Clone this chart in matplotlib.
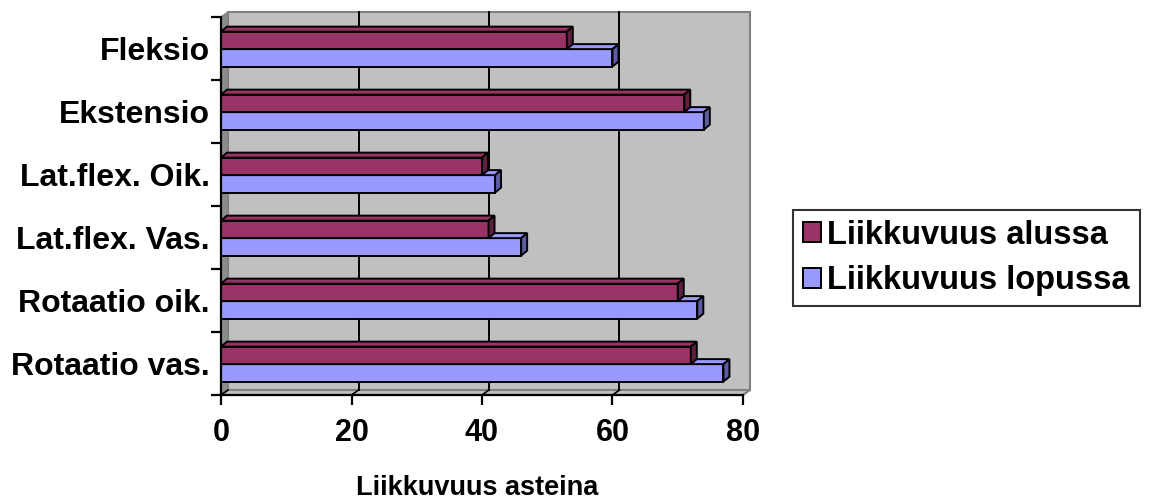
import matplotlib
matplotlib.use("Agg")
import matplotlib.pyplot as plt
from matplotlib.patches import Polygon, Rectangle, Patch

plt.rcParams['font.family'] = ['Liberation Sans', 'DejaVu Sans']

categories = ["Fleksio", "Ekstensio", "Lat.flex. Oik.", "Lat.flex. Vas.",
              "Rotaatio oik.", "Rotaatio vas."]
alussa = [53, 71, 40, 41, 70, 72]
lopussa = [60, 74, 42, 46, 73, 77]
series_names = ["Liikkuvuus alussa", "Liikkuvuus lopussa"]
x_ticks = [0, 20, 40, 60, 80]

c_alussa = "#993366"
c_alussa_side = "#5e1f40"
c_lopussa = "#9999FF"
c_lopussa_side = "#5c5ca6"
wall = "#C0C0C0"
side_wall = "#8c8c8c"

W, H = 1149, 499
fig = plt.figure(figsize=(W / 100, H / 100), dpi=100)
# front plane of the 3d box in pixels: x 221..743, y 17..395 (from top)
ax = fig.add_axes([221 / W, (H - 395) / H, 522 / W, 378 / H])
ax.set_xlim(0, 80)
ax.set_ylim(-0.5, 5.5)

# pixel -> data conversions for the oblique depth offsets
px_x = 80 / 522
px_y = 6 / 378
dx, dy = 7 * px_x, 5 * px_y      # wall depth
bdx, bdy = 6 * px_x, 5 * px_y    # bar depth
h = 17.5 * px_y                   # bar thickness

# walls and floor
ax.add_patch(Rectangle((dx, -0.5 + dy), 80, 6, facecolor=wall,
                       edgecolor="#808080", lw=1.5, clip_on=False, zorder=0))
ax.add_patch(Polygon([(0, -0.5), (0, 5.5), (dx, 5.5 + dy), (dx, -0.5 + dy)],
                     closed=True, facecolor=side_wall, edgecolor="#808080",
                     lw=1, clip_on=False, zorder=0.5))
ax.add_patch(Polygon([(0, -0.5), (80, -0.5), (80 + dx, -0.5 + dy), (dx, -0.5 + dy)],
                     closed=True, facecolor=wall, edgecolor="#808080",
                     lw=1.5, clip_on=False, zorder=0.5))
for xv in x_ticks[1:-1]:
    ax.plot([xv + dx, xv + dx], [-0.5 + dy, 5.5 + dy], color="black", lw=1.4,
            clip_on=False, zorder=0.8)
for xv in x_ticks[:-1]:
    ax.plot([xv, xv + dx], [-0.5, -0.5 + dy], color="black", lw=1.2,
            clip_on=False, zorder=0.8)


def bar3d(y0, val, front, side, z):
    ax.barh(y0, val, height=h, align="edge", color=front, edgecolor="black",
            lw=1.4, zorder=z)
    top = [(0, y0 + h), (val, y0 + h), (val + bdx, y0 + h + bdy), (bdx, y0 + h + bdy)]
    ax.add_patch(Polygon(top, closed=True, facecolor=front, edgecolor="black",
                         lw=1.4, zorder=z, clip_on=False))
    sd = [(val, y0), (val + bdx, y0 + bdy), (val + bdx, y0 + h + bdy), (val, y0 + h)]
    ax.add_patch(Polygon(sd, closed=True, facecolor=side, edgecolor="black",
                         lw=1.4, zorder=z, clip_on=False))


ypos = [len(categories) - 1 - i for i in range(len(categories))]
for yc, a, l in zip(ypos, alussa, lopussa):
    c = yc - 0.01
    bar3d(c - h, l, c_lopussa, c_lopussa_side, 2)
    bar3d(c, a, c_alussa, c_alussa_side, 3)

# axes
for s in ["top", "right"]:
    ax.spines[s].set_visible(False)
for s in ["left", "bottom"]:
    ax.spines[s].set_linewidth(1.6)
    ax.spines[s].set_zorder(5)
ax.set_facecolor("none")
ax.set_xticks(x_ticks)
ax.set_xticklabels([str(v) for v in x_ticks], fontsize=22, fontweight="bold")
ax.set_yticks(ypos)
ax.set_yticklabels(categories, fontsize=23, fontweight="bold")
ax.set_yticks([k - 0.5 for k in range(len(categories) + 1)], minor=True)
ax.tick_params(axis="y", which="major", length=0, pad=8)
ax.tick_params(axis="y", which="minor", length=7, width=1.6, direction="out")
ax.tick_params(axis="x", length=7, width=1.6, direction="out", pad=9.5)
ax.set_xlabel("Liikkuvuus asteina", fontsize=19.5, fontweight="bold")
ax.xaxis.set_label_coords(0.49, -100 / 378)
ax.xaxis.label.set_va("baseline")

handles = [Patch(facecolor=c_alussa, edgecolor="black", lw=1.4),
           Patch(facecolor=c_lopussa, edgecolor="black", lw=1.4)]
leg = fig.legend(handles, series_names, loc="upper left",
                 bbox_to_anchor=(793 / W, 1 - 210 / H), frameon=True,
                 fancybox=False, prop={"size": 23.5, "weight": "bold"},
                 handlelength=0.55, handleheight=0.55, handletextpad=0.2,
                 borderpad=0.3, labelspacing=0.45, borderaxespad=0)
leg.get_frame().set_edgecolor("black")
leg.get_frame().set_linewidth(1.5)

fig.savefig("out.png", dpi=100)
